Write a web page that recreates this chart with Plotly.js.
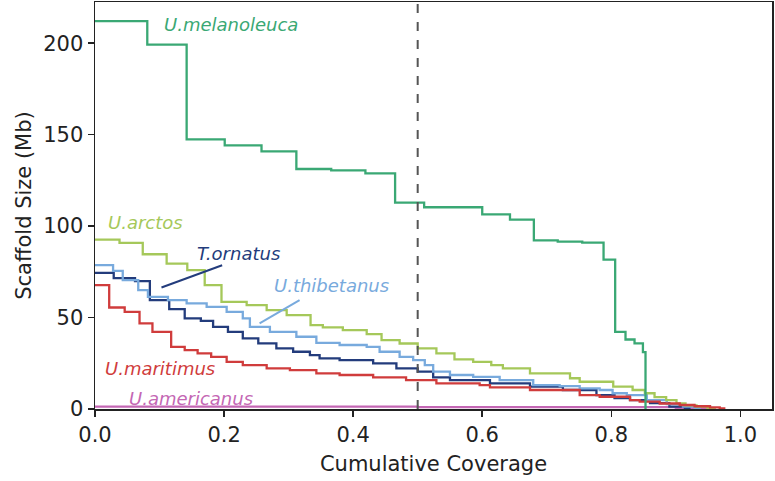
<!DOCTYPE html>
<html>
<head>
<meta charset="utf-8">
<script src="https://cdn.plot.ly/plotly-3.0.1.min.js"></script>
<style>html,body{margin:0;padding:0;background:#fff;}#chart{width:775px;height:481px;}</style>
</head>
<body>
<div id="chart"></div>
<script>
// U.melanoleuca
const melX = [0, 0.081, 0.142, 0.201, 0.258, 0.312, 0.366, 0.419, 0.465, 0.510, 0.600, 0.643, 0.680, 0.717, 0.755, 0.788, 0.806, 0.822, 0.836, 0.849, 0.853];
const melY = [212, 199.2, 147.4, 144.1, 140.8, 131.2, 130.5, 128.8, 112.8, 110.3, 106.4, 103.5, 92.2, 91.5, 91.0, 81.7, 42.2, 38.0, 35.9, 31.1, 0];
// U.arctos
const arcX = [0, 0.038, 0.074, 0.111, 0.143, 0.170, 0.196, 0.235, 0.266, 0.297, 0.334, 0.353, 0.384, 0.421, 0.444, 0.472, 0.500, 0.529, 0.557, 0.586, 0.614, 0.632, 0.674, 0.736, 0.751, 0.803, 0.833, 0.852, 0.867, 0.885, 0.901, 0.915, 0.932, 0.949, 0.960];
const arcY = [92.6, 90.8, 84.6, 79.5, 75.9, 67.7, 58.6, 56.8, 54.0, 51.3, 45.9, 44.6, 43.1, 40.9, 37.7, 35.8, 33.1, 30.4, 27.1, 25.8, 24.0, 22.2, 19.5, 16.8, 14.9, 12.2, 10.4, 8.6, 6.5, 4.9, 3.1, 2.0, 1.3, 0.5, 0];
// U.thibetanus
const thiX = [0, 0.028, 0.043, 0.067, 0.082, 0.113, 0.142, 0.173, 0.204, 0.229, 0.240, 0.271, 0.312, 0.343, 0.379, 0.421, 0.441, 0.472, 0.493, 0.511, 0.524, 0.550, 0.586, 0.627, 0.679, 0.720, 0.751, 0.782, 0.802, 0.824, 0.855, 0.886, 0.911, 0.929, 0.937];
const thiY = [78.6, 75.5, 70.4, 65.0, 61.3, 59.5, 57.7, 55.8, 53.1, 49.5, 44.9, 42.2, 39.5, 36.2, 35.0, 34.0, 31.3, 28.5, 26.7, 24.0, 20.4, 18.6, 17.6, 15.8, 13.1, 12.5, 11.3, 10.4, 8.6, 7.6, 4.9, 2.7, 1.3, 0.5, 0];
// T.ornatus
const ornX = [0, 0.029, 0.062, 0.085, 0.115, 0.139, 0.164, 0.183, 0.206, 0.229, 0.253, 0.281, 0.307, 0.333, 0.348, 0.379, 0.431, 0.467, 0.500, 0.524, 0.550, 0.612, 0.674, 0.725, 0.777, 0.805, 0.829, 0.860, 0.890, 0.914, 0.921];
const ornY = [74.4, 71.5, 69.9, 59.5, 54.6, 49.5, 48.2, 44.9, 42.2, 38.6, 35.9, 33.1, 31.3, 29.5, 27.7, 26.7, 24.9, 22.2, 20.4, 17.3, 15.8, 14.0, 12.2, 10.4, 7.6, 6.0, 4.9, 3.2, 1.3, 0.4, 0];
// U.maritimus
const marX = [0, 0.022, 0.046, 0.069, 0.089, 0.118, 0.139, 0.159, 0.180, 0.204, 0.229, 0.266, 0.302, 0.343, 0.379, 0.431, 0.482, 0.529, 0.596, 0.612, 0.674, 0.751, 0.782, 0.829, 0.844, 0.875, 0.906, 0.929, 0.953, 0.968, 0.975];
const marY = [67.7, 55.5, 53.1, 46.8, 42.2, 34.0, 32.2, 30.4, 28.5, 25.8, 24.0, 22.2, 21.3, 19.5, 18.6, 17.3, 15.8, 14.0, 13.1, 11.8, 10.4, 7.6, 6.7, 4.9, 4.0, 3.0, 2.2, 1.5, 0.9, 0.3, 0];
// U.americanus
const ameX = [0, 0.5, 0.9, 0.96];
const ameY = [1.3, 1.0, 0.5, 0];

const xTickVals = [0, 0.2, 0.4, 0.6, 0.8, 1.0];
const xTickText = ["0.0", "0.2", "0.4", "0.6", "0.8", "1.0"];
const yTickVals = [0, 50, 100, 150, 200];

const colors = {
  "U.melanoleuca": "#3aa874",
  "U.arctos": "#a5c85a",
  "U.thibetanus": "#78aadd",
  "T.ornatus": "#233c7c",
  "U.maritimus": "#d03c3c",
  "U.americanus": "#c467b4"
};
const data = {
  "U.melanoleuca": [melX, melY],
  "U.arctos": [arcX, arcY],
  "U.thibetanus": [thiX, thiY],
  "T.ornatus": [ornX, ornY],
  "U.maritimus": [marX, marY],
  "U.americanus": [ameX, ameY]
};
const drawOrder = ["U.americanus", "T.ornatus", "U.thibetanus", "U.arctos", "U.maritimus", "U.melanoleuca"];
const traces = drawOrder.map(s => ({
  type: "scatter", mode: "lines", name: s,
  x: data[s][0], y: data[s][1],
  line: {shape: "hv", color: colors[s], width: 2.3},
  showlegend: false, hoverinfo: "skip"
}));

const fnt = "DejaVu Sans, Verdana, sans-serif";
const labelFont = (c) => ({family: "DejaVu Sans, sans-serif", size: 18, color: c, style: "italic"});

const layout = {
  width: 775, height: 481,
  margin: {l: 95, r: 3, t: 2, b: 72},
  paper_bgcolor: "#ffffff", plot_bgcolor: "#ffffff",
  font: {family: fnt, size: 21, color: "#222"},
  xaxis: {
    range: [0, 1.049], tickvals: xTickVals, ticktext: xTickText,
    showgrid: false, zeroline: false, showline: true, mirror: true, linecolor: "#222", linewidth: 1.5,
    ticks: "outside", ticklen: 6, tickwidth: 1.5, tickcolor: "#222",
    tickfont: {family: fnt, size: 21, color: "#222"},
    title: {text: "Cumulative Coverage", font: {family: fnt, size: 21, color: "#222"}, standoff: 10}
  },
  yaxis: {
    range: [0, 222.5], tickvals: yTickVals,
    showgrid: false, zeroline: false, showline: true, mirror: true, linecolor: "#222", linewidth: 1.5,
    ticks: "outside", ticklen: 6, tickwidth: 1.5, tickcolor: "#222",
    tickfont: {family: fnt, size: 21, color: "#222"},
    title: {text: "Scaffold Size (Mb)", font: {family: fnt, size: 21, color: "#222"}, standoff: 6}
  },
  shapes: [
    {type: "line", xref: "x", yref: "paper", x0: 0.5, x1: 0.5, y0: 0, y1: 1,
     line: {color: "#555", width: 2, dash: "dash"}},
    {type: "line", xref: "x", yref: "y", x0: 0.103, y0: 66.4, x1: 0.197, y1: 78.6,
     line: {color: colors["T.ornatus"], width: 2}},
    {type: "line", xref: "x", yref: "y", x0: 0.255, y0: 46.8, x1: 0.317, y1: 59.5,
     line: {color: colors["U.thibetanus"], width: 2}}
  ],
  annotations: [
    {text: "U.melanoleuca", x: 0.211, y: 210, xref: "x", yref: "y", showarrow: false, font: labelFont(colors["U.melanoleuca"])},
    {text: "U.arctos", x: 0.017, y: 101.7, xref: "x", yref: "y", xanchor: "left", showarrow: false, font: labelFont(colors["U.arctos"])},
    {text: "T.ornatus", x: 0.222, y: 85, xref: "x", yref: "y", showarrow: false, font: labelFont(colors["T.ornatus"])},
    {text: "U.thibetanus", x: 0.367, y: 67.7, xref: "x", yref: "y", showarrow: false, font: labelFont(colors["U.thibetanus"])},
    {text: "U.maritimus", x: 0.012, y: 22.2, xref: "x", yref: "y", xanchor: "left", showarrow: false, font: labelFont(colors["U.maritimus"])},
    {text: "U.americanus", x: 0.049, y: 5.8, xref: "x", yref: "y", xanchor: "left", showarrow: false, font: labelFont(colors["U.americanus"])}
  ]
};
Plotly.newPlot("chart", traces, layout, {displayModeBar: false, staticPlot: true});
</script>
</body>
</html>
